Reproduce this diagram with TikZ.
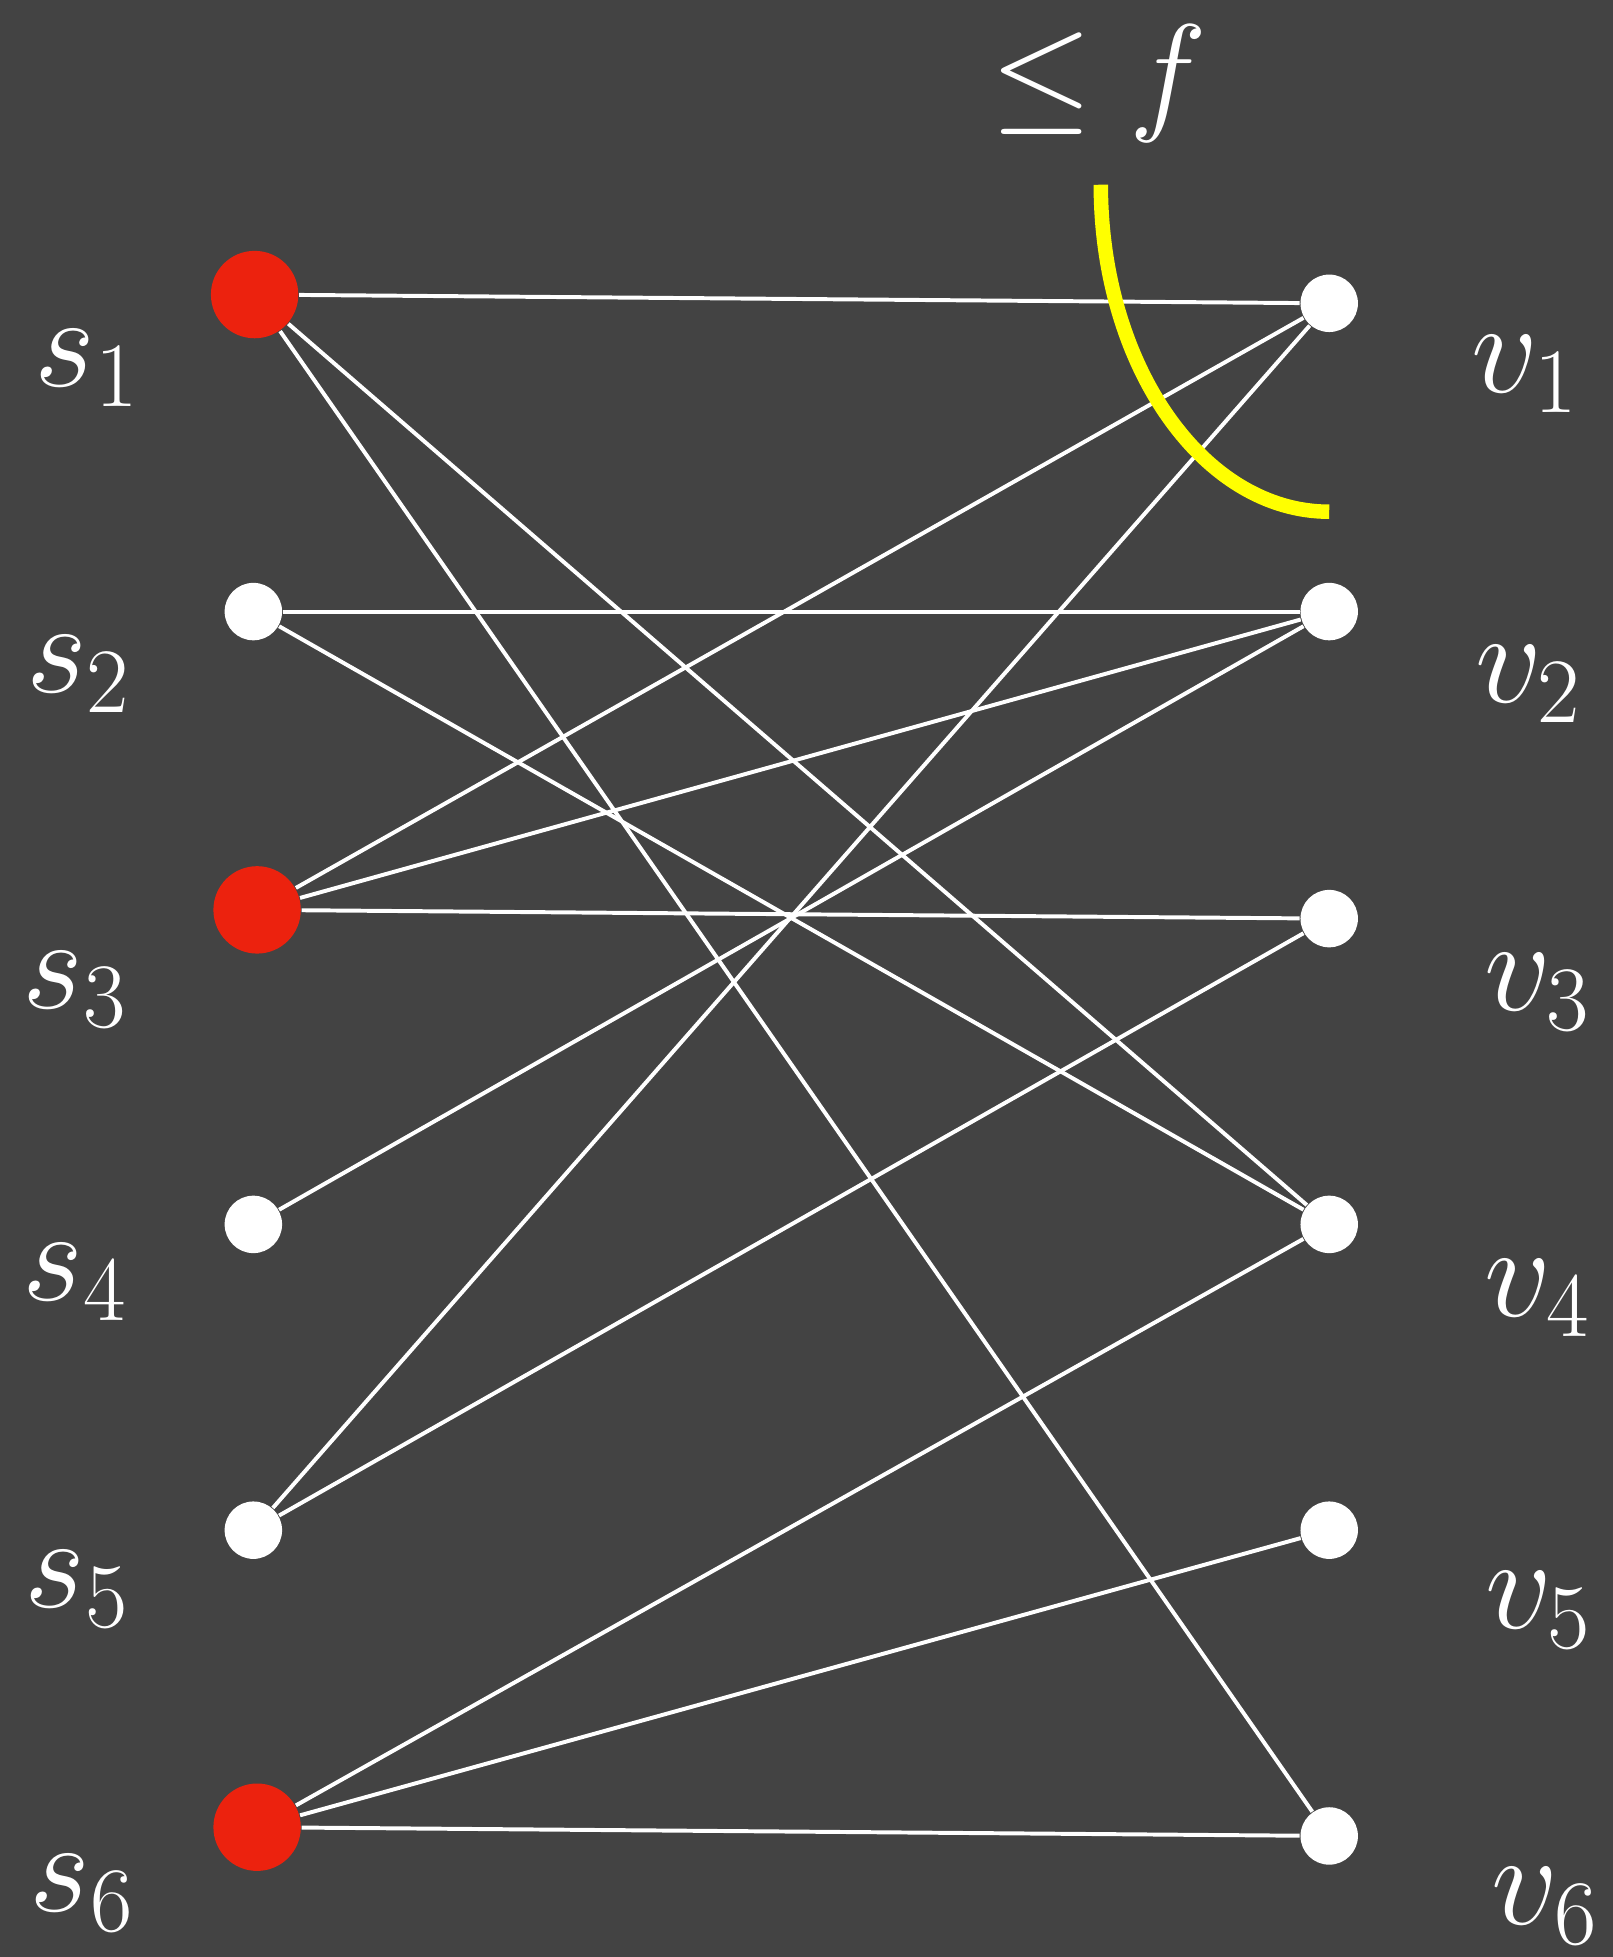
\RequirePackage{fix-cm}
\documentclass[tikz,border=0pt]{standalone}
\usepackage{tikz}
\usetikzlibrary{positioning}
\definecolor{bgdark}{RGB}{67,67,67}
\definecolor{pickred}{RGB}{236,34,14}
\definecolor{cutyellow}{RGB}{255,255,0}

\begin{document}
\begin{tikzpicture}[
  x=0.01cm, y=-0.01cm,
  font=\fontsize{30}{36}\selectfont,
  vert/.style={circle, fill=white, minimum size=0.46cm, inner sep=0pt},
  picked/.style={vert, fill=pickred, minimum size=0.7cm},
  edge/.style={draw=white, line width=0.9pt},
  cut/.style={draw=cutyellow, line width=3.3pt},
  lbl/.style={text=white, inner sep=0pt},
]
\fill[bgdark] (0,0) rectangle (1292,1568);
\useasboundingbox (0,0) rectangle (1292,1568);

\node[picked] (s1) at (204,236) {};
\node[vert]   (s2) at (203,490) {};
\node[picked] (s3) at (206,729) {};
\node[vert]   (s4) at (203,981) {};
\node[vert]   (s5) at (203,1226) {};
\node[picked] (s6) at (206,1464) {};

\node[vert] (v1) at (1065,243) {};
\node[vert] (v2) at (1065,490) {};
\node[vert] (v3) at (1065,736) {};
\node[vert] (v4) at (1065,981) {};
\node[vert] (v5) at (1065,1226) {};
\node[vert] (v6) at (1065,1471) {};

\node[lbl] (ls1) at (70,295)  {$s_1$};
\node[lbl] (ls2) at (63,540)  {$s_2$};
\node[lbl] (ls3) at (60,793)  {$s_3$};
\node[lbl] (ls4) at (60,1027) {$s_4$};
\node[lbl] (ls5) at (62,1273) {$s_5$};
\node[lbl] (ls6) at (66,1517) {$s_6$};

\node[lbl] (lv1) at (1222,300)  {$v_1$};
\node[lbl] (lv2) at (1225,548)  {$v_2$};
\node[lbl] (lv3) at (1232,795)  {$v_3$};
\node[lbl] (lv4) at (1232,1040) {$v_4$};
\node[lbl] (lv5) at (1233,1290) {$v_5$};
\node[lbl] (lv6) at (1238,1527) {$v_6$};

\draw[edge] (s1) -- (v1);
\draw[edge] (s1) -- (v4);
\draw[edge] (s1) -- (v6);
\draw[edge] (s2) -- (v2);
\draw[edge] (s2) -- (v4);
\draw[edge] (s3) -- (v1);
\draw[edge] (s3) -- (v2);
\draw[edge] (s3) -- (v3);
\draw[edge] (s4) -- (v2);
\draw[edge] (s5) -- (v1);
\draw[edge] (s5) -- (v3);
\draw[edge] (s6) -- (v4);
\draw[edge] (s6) -- (v5);
\draw[edge] (s6) -- (v6);

\draw[cut] (882,148) .. controls (882,293) and (964,410) .. (1065,410);
\node[lbl] (bound) at (880,67) {$\leq f$};

\end{tikzpicture}
\end{document}
